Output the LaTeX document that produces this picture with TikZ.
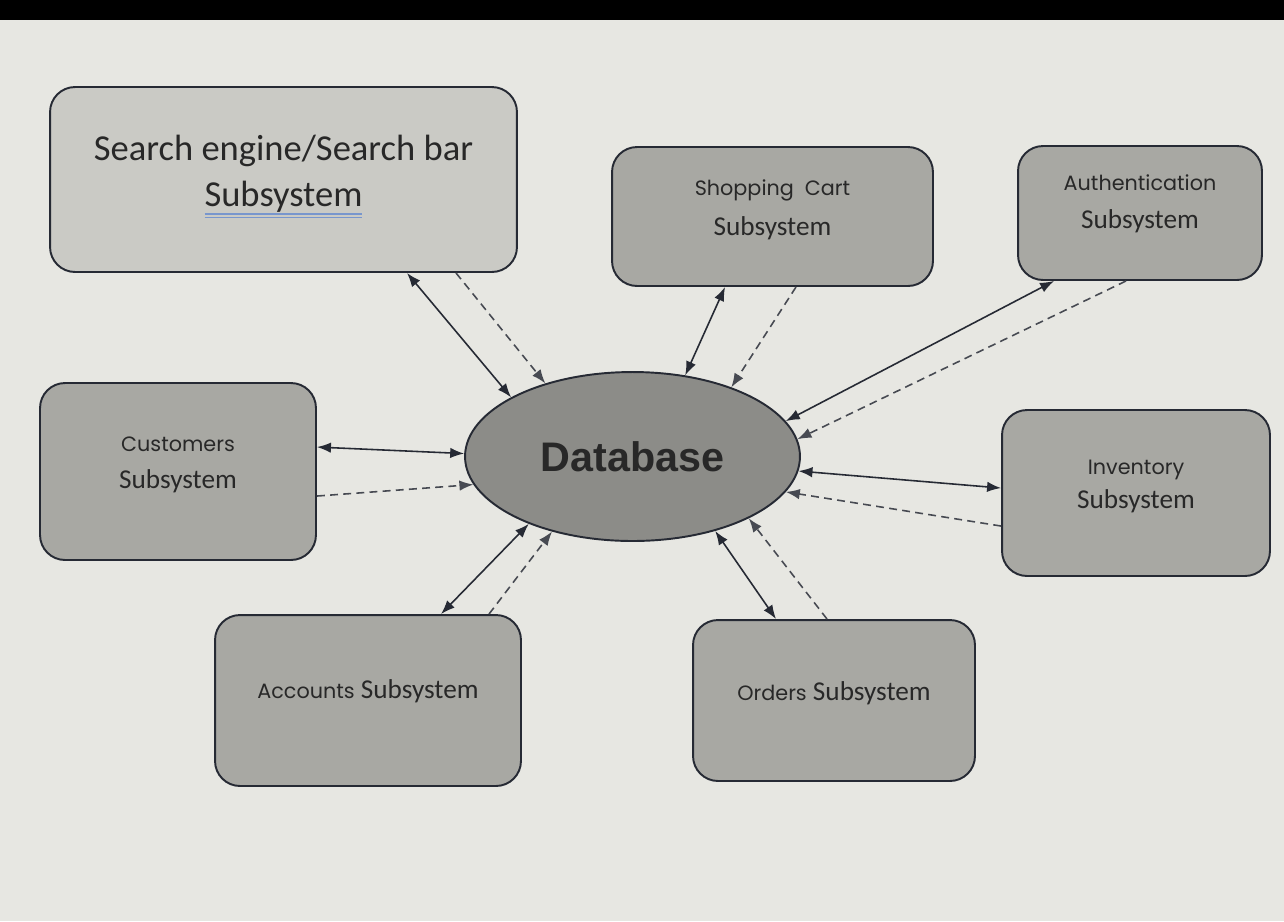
\documentclass[tikz,border=0pt]{standalone}
\usepackage{fontspec}
\setmainfont{Carlito}
\newfontfamily\geofont{Poppins}
\newfontfamily\dbfont{Liberation Sans}
\usetikzlibrary{arrows.meta,shapes.geometric}
\definecolor{paper}{RGB}{231,231,226}
\definecolor{boxlight}{RGB}{202,202,197}
\definecolor{boxgray}{RGB}{168,168,163}
\definecolor{dbgray}{RGB}{140,140,136}
\definecolor{edge}{RGB}{38,42,52}
\definecolor{ink}{RGB}{40,40,40}
\definecolor{spellblue}{RGB}{120,150,205}
\newcommand{\spellmark}[1]{\setbox0\hbox{#1}%
  \rlap{\color{spellblue}\rule[-4.5pt]{\wd0}{0.7pt}}%
  \rlap{\color{spellblue}\rule[-6.5pt]{\wd0}{0.7pt}}\box0}
\newcommand{\headword}[1]{{\geofont\fontsize{11.8}{14}\selectfont #1}}
\newcommand{\lift}[1]{\rule[-#1]{0pt}{#1}}

\begin{document}
\begin{tikzpicture}[
    x=0.02cm, y=-0.02cm,
    >={Latex[length=2.8mm,width=2.1mm]},
    subbox/.style={draw=edge, line width=1.1pt, rounded corners=0.5cm,
                   fill=boxgray, text=ink, align=center, inner sep=0pt},
    gap/.style={font=\fontsize{15.5}{#1}\selectfont},
    dbnode/.style={ellipse, draw=edge, line width=1.1pt, fill=dbgray,
                   text=ink, inner sep=0pt, font=\dbfont\bfseries\fontsize{23.5}{26}\selectfont},
    link/.style={<->, line width=0.9pt, edge},
    feed/.style={->, line width=0.9pt, edge!85, dash pattern=on 4.5pt off 3pt},
  ]

  %% ---- paper and screen edge ----
  \fill[paper] (0,0) rectangle (1284,921);
  \fill[black] (0,0) rectangle (1284,20);

  %% ---- database in the middle ----
  \node[dbnode, minimum width=6.7cm, minimum height=3.38cm] (db) at (632.5,456.5) {Database};

  %% ---- subsystems ----
  \node[subbox, fill=boxlight, font=\fontsize{20.8}{26.6}\selectfont,
        minimum width=9.34cm, minimum height=3.7cm] (search) at (283.5,179.5)
    {Search engine/Search bar\\ \spellmark{Subsystem}\lift{10pt}};
  \node[subbox, gap=22.7pt, minimum width=6.42cm, minimum height=2.78cm] (cart) at (772.5,216.5)
    {\headword{Shopping\ \ Cart}\\ Subsystem\lift{10pt}};
  \node[subbox, gap=21.5pt, minimum width=4.88cm, minimum height=2.68cm] (auth) at (1140,213)
    {\headword{Authentication}\\ Subsystem\lift{13pt}};
  \node[subbox, gap=21.5pt, minimum width=5.52cm, minimum height=3.54cm] (cust) at (178,471.5)
    {\headword{Customers}\\ Subsystem\lift{10pt}};
  \node[subbox, gap=19.3pt, minimum width=5.36cm, minimum height=3.32cm] (inv) at (1136,493)
    {\headword{Inventory}\\ Subsystem\lift{10pt}};
  \node[subbox, gap=18pt, minimum width=6.12cm, minimum height=3.42cm] (acc) at (368,700.5)
    {\headword{Accounts} Subsystem\lift{13pt}};
  \node[subbox, gap=18pt, minimum width=5.64cm, minimum height=3.22cm] (ord) at (834,700.5)
    {\headword{Orders} Subsystem\lift{11pt}};

  %% ---- two-way links and feeds into the database ----
  \draw[link] ([xshift=7.16cm]search.south west) -- (db.154.8);
  \draw[feed] ([xshift=8.14cm]search.south west) -- (db.140.5);

  \draw[link] ([xshift=2.28cm]cart.south west) -- (db.57.2);
  \draw[feed] ([xshift=3.7cm]cart.south west) -- (db.35.3);

  \draw[link] ([xshift=0.74cm]auth.south west) -- (db.13.9);
  \draw[feed] ([xshift=2.18cm]auth.south west) -- (db.6.9);

  \draw[link] ([yshift=-1.3cm]cust.north east) -- (db.179.6);
  \draw[feed] ([yshift=-2.28cm]cust.north east) -- (db.190.1);

  \draw[link] ([yshift=-1.58cm]inv.north west) -- (db.355.6);
  \draw[feed] ([yshift=-2.34cm]inv.north west) -- (db.347.8);

  \draw[link] ([xshift=4.54cm]acc.north west) -- (db.213.3);
  \draw[feed] ([xshift=5.5cm]acc.north west) -- (db.223.6);

  \draw[link] ([xshift=1.68cm]ord.north west) -- (db.318.9);
  \draw[feed] ([xshift=2.7cm]ord.north west) -- (db.332.7);

\end{tikzpicture}
\end{document}
